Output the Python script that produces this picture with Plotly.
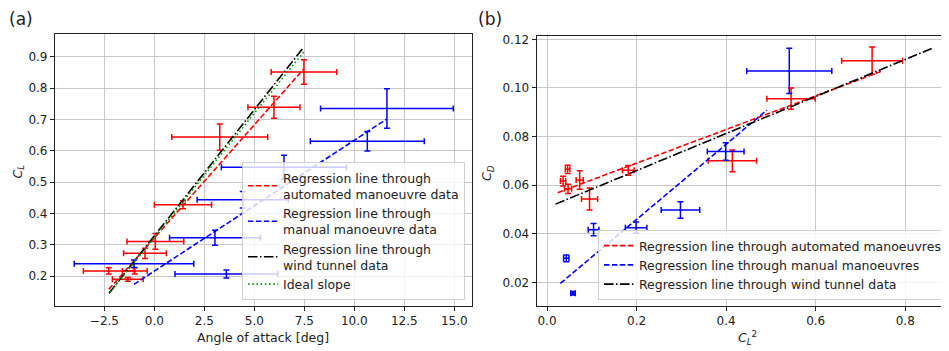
import plotly.graph_objects as go

# ---------------- Panel (a): C_L vs angle of attack ----------------
auto_aoa = [7.48, 5.98, 3.27, 1.43, 0.05, -0.47, -2.28, -0.98, -1.33]
auto_aoa_err = [1.64, 1.30, 2.40, 1.43, 1.42, 1.07, 1.27, 0.62, 0.77]
auto_cl = [0.852, 0.739, 0.644, 0.428, 0.311, 0.273, 0.217, 0.217, 0.190]
auto_cl_err = [0.039, 0.035, 0.042, 0.013, 0.025, 0.016, 0.010, 0.010, 0.006]

manual_aoa = [11.63, 10.65, 6.48, 4.42, 3.03, -1.02, 3.60]
manual_aoa_err = [3.32, 2.85, 3.13, 2.28, 2.27, 2.99, 2.57]
manual_cl = [0.735, 0.631, 0.548, 0.444, 0.323, 0.240, 0.207]
manual_cl_err = [0.063, 0.031, 0.038, 0.026, 0.024, 0.012, 0.013]

reg_auto_aoa = [-2.28, 7.45]
reg_auto_cl = [0.158, 0.860]
reg_manual_aoa = [-1.02, 11.63]
reg_manual_cl = [0.174, 0.702]
reg_wt_aoa = [-2.27, 7.40]
reg_wt_cl = [0.146, 0.925]
ideal_aoa = [-2.20, 7.50]
ideal_cl = [0.150, 0.918]

# ---------------- Panel (b): C_D vs C_L^2 ----------------
auto_cl2 = [0.726, 0.545, 0.414, 0.1815, 0.095, 0.073, 0.046, 0.036, 0.047]
auto_cl2_err = [0.068, 0.054, 0.054, 0.013, 0.018, 0.008, 0.005, 0.006, 0.008]
auto_cd = [0.1112, 0.0956, 0.0700, 0.0661, 0.0543, 0.0621, 0.0665, 0.0617, 0.0585]
auto_cd_err = [0.0056, 0.0044, 0.0045, 0.0020, 0.0045, 0.0038, 0.0017, 0.0020, 0.0019]

manual_cl2 = [0.541, 0.399, 0.298, 0.199, 0.104, 0.043, 0.058]
manual_cl2_err = [0.095, 0.041, 0.043, 0.024, 0.012, 0.006, 0.005]
manual_cd = [0.107, 0.0738, 0.0498, 0.0425, 0.0417, 0.0299, 0.0155]
manual_cd_err = [0.0093, 0.0036, 0.0034, 0.0023, 0.0025, 0.0014, 0.0007]

reg_auto_cl2 = [0.024, 0.75]
reg_auto_cd = [0.0569, 0.1071]
reg_manual_cl2 = [0.030, 0.491]
reg_manual_cd = [0.0196, 0.0909]
reg_wt_cl2 = [0.019, 0.860]
reg_wt_cd = [0.0522, 0.1163]

RED = "#ff0000"
BLUE = "#0000ff"
BLACK = "#000000"
GREEN = "#00a000"
FONT = "DejaVu Sans, Arial, sans-serif"
TICK_FS = 12
TXT_FS = 12.5
LW = 1.6
DASH = "5.5px,2.4px"
DASHDOT = "9.6px,2.4px,1.5px,2.4px"
DOT = "1.6px,2.6px"

# The page body has an 8px margin, so the figure is drawn 8px in from the
# window's top-left corner; size the figure to fill the rest of the window.
OFF = 8
FW, FH = 949 - OFF, 351 - OFF


def PX(x):
    return (x - OFF) / FW


def PY(y):
    return 1 - (y - OFF) / FH


fig = go.Figure()


def errtrace(x, xe, y, ye, color, xa, ya):
    return go.Scatter(
        x=x, y=y, mode="markers",
        marker=dict(size=2, color=color),
        error_x=dict(type="data", array=xe, color=color, thickness=1.5, width=3),
        error_y=dict(type="data", array=ye, color=color, thickness=1.5, width=3),
        showlegend=False, xaxis=xa, yaxis=ya, hoverinfo="skip",
    )


def line(x, y, color, dash, name, xa, ya, legend):
    return go.Scatter(
        x=x, y=y, mode="lines", line=dict(color=color, width=LW, dash=dash),
        name=name, xaxis=xa, yaxis=ya, legend=legend,
    )

# panel a
fig.add_trace(errtrace(auto_aoa, auto_aoa_err, auto_cl, auto_cl_err, RED, "x", "y"))
fig.add_trace(errtrace(manual_aoa, manual_aoa_err, manual_cl, manual_cl_err, BLUE, "x", "y"))
fig.add_trace(line(reg_auto_aoa, reg_auto_cl, RED, DASH,
                   "Regression line through<br>automated manoeuvre data", "x", "y", "legend"))
fig.add_trace(line(reg_manual_aoa, reg_manual_cl, BLUE, DASH,
                   "Regression line through<br>manual manoeuvre data", "x", "y", "legend"))
fig.add_trace(line(reg_wt_aoa, reg_wt_cl, BLACK, DASHDOT,
                   "Regression line through<br>wind tunnel data", "x", "y", "legend"))
fig.add_trace(line(ideal_aoa, ideal_cl, GREEN, DOT, "Ideal slope", "x", "y", "legend"))

# panel b
fig.add_trace(errtrace(auto_cl2, auto_cl2_err, auto_cd, auto_cd_err, RED, "x2", "y2"))
fig.add_trace(errtrace(manual_cl2, manual_cl2_err, manual_cd, manual_cd_err, BLUE, "x2", "y2"))
fig.add_trace(line(reg_auto_cl2, reg_auto_cd, RED, DASH,
                   "Regression line through automated manoeuvres", "x2", "y2", "legend2"))
fig.add_trace(line(reg_manual_cl2, reg_manual_cd, BLUE, DASH,
                   "Regression line through manual manoeuvres", "x2", "y2", "legend2"))
fig.add_trace(line(reg_wt_cl2, reg_wt_cd, BLACK, DASHDOT,
                   "Regression line through wind tunnel data", "x2", "y2", "legend2"))

axis_common = dict(
    showgrid=True, gridcolor="#c8c8c8", gridwidth=1,
    showline=True, linecolor="#222", linewidth=1.2, mirror=True,
    ticks="outside", ticklen=4, tickcolor="#222",
    tickfont=dict(family=FONT, size=TICK_FS, color="#222"),
    zeroline=False, automargin=False,
)

legend_common = dict(
    bgcolor="rgba(255,255,255,0.8)", bordercolor="#d0d0d0", borderwidth=1,
    font=dict(family=FONT, size=TXT_FS, color="#222"),
    tracegroupgap=0, itemwidth=30,
)


def ann(text, x, y, angle=0, size=TXT_FS, xanchor="center", yanchor="middle"):
    return dict(text=text, x=PX(x), y=PY(y), xref="paper", yref="paper",
                xanchor=xanchor, yanchor=yanchor, showarrow=False, textangle=angle,
                borderpad=0,
                font=dict(family=FONT, size=size, color="#222"))


fig.update_layout(
    width=FW, height=FH, margin=dict(l=0, r=0, t=0, b=0),
    plot_bgcolor="white", paper_bgcolor="white",
    font=dict(family=FONT, size=TXT_FS, color="#222"),
    xaxis=dict(axis_common, domain=[PX(55), PX(471.7)], range=[-4.97, 15.87],
               tickvals=[-2.5, 0, 2.5, 5, 7.5, 10, 12.5, 15], tickformat=".1f",
               anchor="y"),
    yaxis=dict(axis_common, domain=[PY(305.7), PY(34.3)], range=[0.106, 0.972],
               tickvals=[0.2, 0.3, 0.4, 0.5, 0.6, 0.7, 0.8, 0.9], tickformat=".1f",
               anchor="x"),
    xaxis2=dict(axis_common, domain=[PX(536.7), PX(946)], range=[-0.023, 0.891],
                tickvals=[0, 0.2, 0.4, 0.6, 0.8], tickformat=".1f",
                anchor="y2"),
    yaxis2=dict(axis_common, domain=[PY(305.7), PY(35.7)], range=[0.0104, 0.1215],
                tickvals=[0.02, 0.04, 0.06, 0.08, 0.10, 0.12], tickformat=".2f",
                anchor="x2"),
    legend=dict(legend_common, x=PX(465), y=PY(300), xanchor="right", yanchor="bottom"),
    legend2=dict(legend_common, x=PX(947), y=PY(300), xanchor="right", yanchor="bottom"),
    annotations=[
        ann("(a)", 8, 8, size=17, xanchor="left", yanchor="top"),
        ann("(b)", 477, 8, size=17, xanchor="left", yanchor="top"),
        ann("Angle of attack [deg]", 263, 337),
        ann("<i>C</i><sub><i>L</i></sub>", 9, 172, angle=-90, xanchor="left"),
        ann("<i>C</i><sub><i>L</i></sub><sup>2</sup>", 747, 338),
        ann("<i>C</i><sub><i>D</i></sub>", 487, 173, angle=-90),
    ],
)

fig.write_html("out.html")
